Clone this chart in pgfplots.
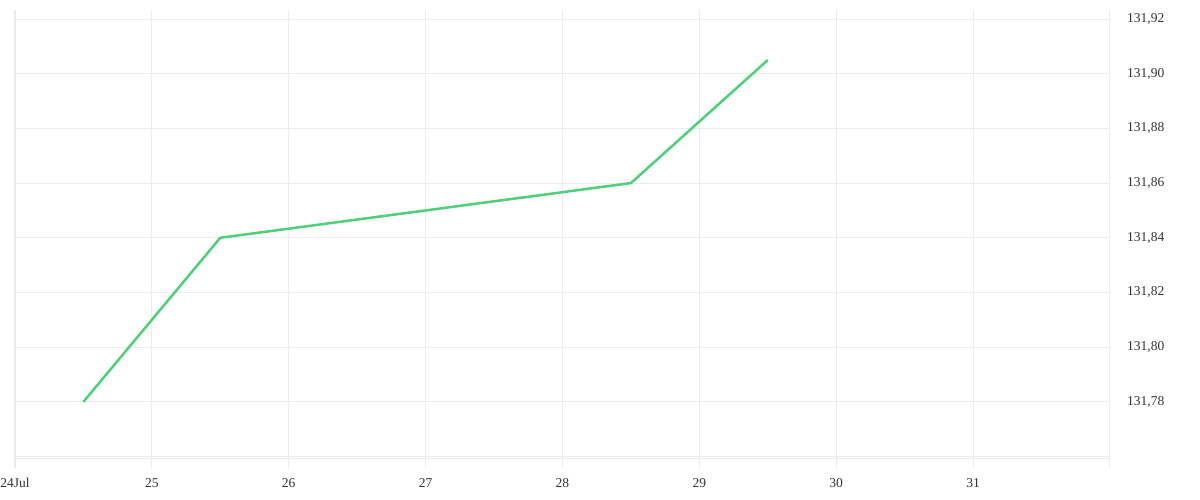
\documentclass[border=0pt]{standalone}
\usepackage{pgfplots}
\pgfplotsset{compat=1.18}
\usepackage{fontspec}
\setmainfont{Liberation Serif}
\definecolor{gridc}{RGB}{236,236,236}
\definecolor{linec}{RGB}{76,208,120}
\definecolor{labc}{RGB}{51,51,51}
\begin{document}
\begin{tikzpicture}[x=1pt,y=1pt]
\useasboundingbox (0,0) rectangle (1200,500);
\begin{axis}[
  at={(15pt,41pt)}, anchor=south west,
  scale only axis, width=1095pt, height=449pt,
  xmin=24, xmax=32, ymin=131.7591, ymax=131.9233,
  xtick={24,25,...,32},
  xticklabels={24Jul,25,26,27,28,29,30,31,},
  ytick={131.76,131.78,...,131.921},
  yticklabels={,{131,78},{131,80},{131,82},{131,84},{131,86},{131,88},{131,90},{131,92}},
  grid=major,
  major grid style={gridc, line width=1pt},
  axis x line*=bottom,
  axis y line*=right,
  axis line style={gridc, line width=1pt},
  x axis line style={-},
  y axis line style={-},
  xtick align=outside,
  x tick style={gridc, line width=1pt},
  y tick style={draw=none},
  major tick length=9pt,
  ticklabel style={font=\fontsize{13.5}{13.5}\selectfont, text=labc},
  xticklabel style={anchor=north, inner sep=0pt, yshift=-10pt},
  yticklabel style={anchor=west, inner sep=0pt, xshift=17pt},
  yticklabel pos=right,
  clip=false,
]
\addplot[linec, line width=2.5pt, line join=round] coordinates {
(24.5,131.78) (25.5,131.84) (28.5,131.86) (29.5,131.905)
};
\end{axis}
\end{tikzpicture}
\end{document}
